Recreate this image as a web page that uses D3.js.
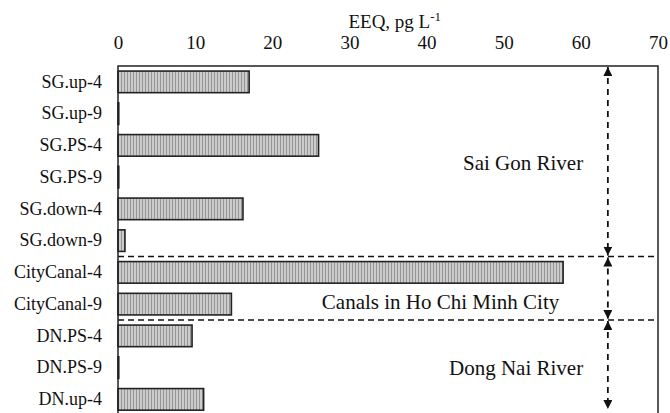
<!DOCTYPE html>
<html>
<head>
<meta charset="utf-8">
<script src="https://cdn.jsdelivr.net/npm/d3@7"></script>
<style>
  body { margin: 0; background: #fff; }
  svg text { font-family: "Liberation Serif", Tinos, "Times New Roman", Times, "DejaVu Serif", serif !important; }
</style>
</head>
<body>
<svg width="670" height="413"></svg>
<script>
// sample sites, top to bottom
const sites = ["SG.up-4", "SG.up-9", "SG.PS-4", "SG.PS-9", "SG.down-4", "SG.down-9",
    "CityCanal-4", "CityCanal-9", "DN.PS-4", "DN.PS-9", "DN.up-4"];
// EEQ, pg/L
const eeq = [17.0, 0.1, 26.0, 0.1, 16.2, 0.9, 57.7, 14.7, 9.6, 0.1, 11.1];
const xTicks = [0, 10, 20, 30, 40, 50, 60, 70];
// groups: label, first site, last site
const groups = [
    { name: "Sai Gon River", from: "SG.up-4", to: "SG.down-9" },
    { name: "Canals in Ho Chi Minh City", from: "CityCanal-4", to: "CityCanal-9" },
    { name: "Dong Nai River", from: "DN.PS-4", to: "DN.up-4" }
];
const arrowAt = 63.5;

const svg = d3.select("svg");
const margin = { top: 66, left: 118, right: 12 };
const width = 670 - margin.left - margin.right;
const rowH = 31.75;
const height = sites.length * rowH;
const g = svg.append("g").attr("transform", `translate(${margin.left},${margin.top})`);

const x = d3.scaleLinear().domain([0, 70]).range([0, width]);
const y = d3.scaleBand().domain(sites).range([0, height]).paddingInner(0.32).paddingOuter(0.16);
const step = y.step();

// hatch pattern
const defs = svg.append("defs");
const pat = defs.append("pattern")
    .attr("id", "hatch")
    .attr("patternUnits", "userSpaceOnUse")
    .attr("width", 3).attr("height", 4);
pat.append("rect").attr("width", 3).attr("height", 4).attr("fill", "#cccccc");
pat.append("rect").attr("x", 0).attr("width", 1).attr("height", 4).attr("fill", "#959595");

// bars
g.selectAll(".bar")
    .data(sites)
    .enter().append("rect")
    .attr("class", "bar")
    .attr("x", x(0))
    .attr("y", d => y(d))
    .attr("width", (d, i) => Math.max(x(eeq[i]) - x(0), 0.5))
    .attr("height", y.bandwidth())
    .attr("fill", "url(#hatch)")
    .attr("stroke", "#222")
    .attr("stroke-width", 1.6);

// top axis
g.append("g")
    .attr("class", "x-axis")
    .call(d3.axisTop(x).tickValues(xTicks).tickSize(0).tickPadding(17))
    .call(a => a.select(".domain").remove())
    .selectAll("text")
    .attr("font-size", "19px")
    .attr("fill", "#111");

// left axis
g.append("g")
    .attr("class", "y-axis")
    .call(d3.axisLeft(y).tickSize(0).tickPadding(16))
    .call(a => a.select(".domain").remove())
    .selectAll("text")
    .attr("font-size", "18px")
    .attr("fill", "#111");

// axis title
const title = g.append("text")
    .attr("x", x(30) - 1)
    .attr("y", -38)
    .attr("font-size", "19px")
    .attr("fill", "#111");
title.append("tspan").text("EEQ, pg L");
title.append("tspan").attr("dy", -7).attr("font-size", "13px").text("-1");

// group separators
const sepY = groups.slice(0, -1).map(gr => sites.indexOf(gr.to) * step + step);
g.selectAll(".sep")
    .data(sepY)
    .enter().append("line")
    .attr("class", "sep")
    .attr("x1", 0).attr("x2", width)
    .attr("y1", d => d).attr("y2", d => d)
    .attr("stroke", "#111")
    .attr("stroke-width", 1.6)
    .attr("stroke-dasharray", "6,4");

// frame: top, left, right
g.append("path")
    .attr("d", `M0,${height} V0 H${width} V${height}`)
    .attr("fill", "none")
    .attr("stroke", "#222")
    .attr("stroke-width", 1.5);

// arrows
defs.append("marker")
    .attr("id", "tri")
    .attr("viewBox", "0 0 10 10")
    .attr("refX", 10).attr("refY", 5)
    .attr("markerWidth", 9).attr("markerHeight", 9)
    .attr("markerUnits", "userSpaceOnUse")
    .attr("orient", "auto-start-reverse")
    .append("path").attr("d", "M0,0 L10,5 L0,10 z").attr("fill", "#111");

const spans = groups.map((gr, i) => {
    const y0 = i === 0 ? 0 : sepY[i - 1];
    const y1 = i === groups.length - 1 ? 344 : sepY[i];
    return { y0, y1, name: gr.name };
});

g.selectAll(".arrow")
    .data(spans)
    .enter().append("line")
    .attr("class", "arrow")
    .attr("x1", x(arrowAt)).attr("x2", x(arrowAt))
    .attr("y1", d => d.y0 + 1).attr("y2", d => d.y1 - 1)
    .attr("stroke", "#111")
    .attr("stroke-width", 1.8)
    .attr("stroke-dasharray", "6,5")
    .attr("marker-start", "url(#tri)")
    .attr("marker-end", "url(#tri)");

// group labels
const labelY = [97, 236, 302];
g.selectAll(".glabel")
    .data(spans)
    .enter().append("text")
    .attr("class", "glabel")
    .attr("x", (d, i) => i === 1 ? x(57.2) : x(60.3))
    .attr("y", (d, i) => labelY[i])
    .attr("dy", "0.35em")
    .attr("text-anchor", "end")
    .attr("font-size", "21px")
    .attr("fill", "#111")
    .text(d => d.name);
</script>
</body>
</html>
